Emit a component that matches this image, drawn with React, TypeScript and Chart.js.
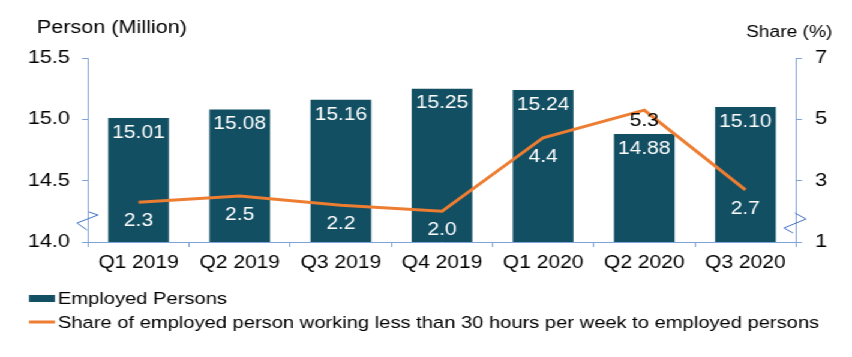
import React, { useEffect, useRef } from 'react';
import { Chart, registerables } from 'chart.js';

Chart.register(...registerables);

// ---- data ----
const categories = ['Q1 2019', 'Q2 2019', 'Q3 2019', 'Q4 2019', 'Q1 2020', 'Q2 2020', 'Q3 2020'];
const employedPersons = [15.01, 15.08, 15.16, 15.25, 15.24, 14.88, 15.1];
const shareUnder30h = [2.3, 2.5, 2.2, 2.0, 4.4, 5.3, 2.7];
const leftRange = [14.0, 15.5];
const leftStep = 0.5;
const rightRange = [1, 7];
const rightStep = 2;
const leftAxisTitle = 'Person (Million)';
const rightAxisTitle = 'Share (%)';
const barLabel = 'Employed Persons';
const lineLabel = 'Share of employed person working less than 30 hours per week to employed persons';

// ---- styling ----
const STRETCH = 1.2; // the reference is horizontally stretched
const W = 852 / STRETCH;
const H = 357;
const FAMILY = '"Liberation Sans", Arial, Helvetica, sans-serif';
const BAR_COLOR = '#124F63';
const LINE_COLOR = '#ED7D31';
const AXIS_COLOR = '#7FA3D8';
const BREAK_COLOR = '#4472C4';

const PLOT_LEFT = 88 / STRETCH;
const PLOT_RIGHT = 796 / STRETCH;
const PLOT_TOP = 58;
const PLOT_BOTTOM = 242;
const PAD_LEFT = 17;

const decorPlugin = {
  id: 'decor',
  afterDatasetsDraw(chart: any) {
    const ctx = chart.ctx;
    const barMeta = chart.getDatasetMeta(0);
    const lineMeta = chart.getDatasetMeta(1);
    ctx.save();
    ctx.textAlign = 'center';
    ctx.textBaseline = 'middle';
    ctx.font = `17.5px ${FAMILY}`;
    barMeta.data.forEach((el: any, i: number) => {
      ctx.fillStyle = '#ffffff';
      ctx.fillText(employedPersons[i].toFixed(2), el.x, el.y + 15);
    });
    lineMeta.data.forEach((el: any, i: number) => {
      const barTop = barMeta.data[i].y;
      const above = el.y < barTop;
      ctx.fillStyle = above ? '#000000' : '#ffffff';
      ctx.fillText(shareUnder30h[i].toFixed(1), el.x, el.y + (above ? 11 : 19));
    });
    ctx.restore();
  },
  afterDraw(chart: any) {
    const ctx = chart.ctx;
    const area = chart.chartArea;
    ctx.save();
    // axis titles
    ctx.fillStyle = '#000000';
    ctx.textBaseline = 'alphabetic';
    ctx.textAlign = 'left';
    ctx.font = `18px ${FAMILY}`;
    ctx.fillText(leftAxisTitle, 37 / STRETCH, 33);
    ctx.font = `16px ${FAMILY}`;
    ctx.fillText(rightAxisTitle, 746 / STRETCH, 37);

    // axis break marks
    ctx.strokeStyle = BREAK_COLOR;
    ctx.lineWidth = 1;
    const b = area.bottom;
    const lx = area.left;
    ctx.beginPath();
    ctx.moveTo(lx + 1 / STRETCH, b - 30);
    ctx.lineTo(lx + 10 / STRETCH, b - 27);
    ctx.lineTo(lx - 11 / STRETCH, b - 19);
    ctx.lineTo(lx - 1 / STRETCH, b - 12);
    ctx.stroke();
    const rx = area.right;
    ctx.beginPath();
    ctx.moveTo(rx - 1 / STRETCH, b - 29);
    ctx.lineTo(rx + 10 / STRETCH, b - 23);
    ctx.lineTo(rx - 12 / STRETCH, b - 14);
    ctx.lineTo(rx - 3 / STRETCH, b - 9);
    ctx.stroke();

    // legend
    const bx = 29 / STRETCH;
    const bw = 26 / STRETCH;
    const tx = 58 / STRETCH;
    ctx.fillStyle = BAR_COLOR;
    ctx.fillRect(bx, 295, bw, 7);
    ctx.strokeStyle = LINE_COLOR;
    ctx.lineWidth = 3;
    ctx.beginPath();
    ctx.moveTo(bx, 322);
    ctx.lineTo(bx + bw, 322);
    ctx.stroke();
    ctx.fillStyle = '#000000';
    ctx.font = `16.8px ${FAMILY}`;
    ctx.textBaseline = 'middle';
    ctx.fillText(barLabel, tx, 299);
    ctx.fillText(lineLabel, tx, 323);
    ctx.restore();
  },
};

export default function App() {
  const canvasRef = useRef<HTMLCanvasElement | null>(null);

  useEffect(() => {
    if (!canvasRef.current) return;
    Chart.defaults.font.family = FAMILY;
    const chart = new Chart(canvasRef.current, {
      type: 'bar',
      data: {
        labels: categories,
        datasets: [
          {
            type: 'bar',
            label: barLabel,
            data: employedPersons,
            backgroundColor: BAR_COLOR,
            borderWidth: 0,
            barPercentage: 0.6,
            categoryPercentage: 1,
            yAxisID: 'y',
            order: 2,
          },
          {
            type: 'line',
            label: lineLabel,
            data: shareUnder30h,
            borderColor: LINE_COLOR,
            backgroundColor: LINE_COLOR,
            borderWidth: 3,
            pointRadius: 0,
            tension: 0,
            fill: false,
            yAxisID: 'y1',
            order: 1,
          } as any,
        ],
      },
      options: {
        animation: false,
        responsive: true,
        maintainAspectRatio: false,
        layout: { padding: { left: PAD_LEFT, top: PLOT_TOP, right: 0, bottom: 0 } },
        plugins: {
          legend: { display: false },
          tooltip: { enabled: false },
        },
        scales: {
          x: {
            grid: {
              offset: true,
              drawOnChartArea: false,
              drawTicks: true,
              tickLength: 5,
              color: AXIS_COLOR,
            },
            border: { color: AXIS_COLOR, width: 1 },
            ticks: {
              font: { size: 17.5, family: FAMILY },
              color: '#000000',
              padding: 6,
              maxRotation: 0,
              autoSkip: false,
            },
            afterFit: (s: any) => {
              s.height = H - PLOT_BOTTOM;
              s.paddingLeft = 0;
              s.paddingRight = 0;
            },
          },
          y: {
            position: 'left',
            min: leftRange[0],
            max: leftRange[1],
            grid: { drawOnChartArea: false, tickLength: 5, color: AXIS_COLOR },
            border: { color: AXIS_COLOR, width: 1 },
            ticks: {
              stepSize: leftStep,
              font: { size: 18, family: FAMILY },
              color: '#000000',
              padding: 10,
              callback: (v: any) => Number(v).toFixed(1),
            },
            afterFit: (s: any) => {
              s.width = PLOT_LEFT - PAD_LEFT;
              s.paddingTop = 0;
              s.paddingBottom = 0;
            },
          },
          y1: {
            position: 'right',
            min: rightRange[0],
            max: rightRange[1],
            grid: { drawOnChartArea: false, tickLength: 5, color: AXIS_COLOR },
            border: { color: AXIS_COLOR, width: 1 },
            ticks: {
              stepSize: rightStep,
              font: { size: 18, family: FAMILY },
              color: '#000000',
              padding: 11,
              callback: (v: any) => String(v),
            },
            afterFit: (s: any) => {
              s.width = W - PLOT_RIGHT;
              s.paddingTop = 0;
              s.paddingBottom = 0;
            },
          },
        },
      } as any,
      plugins: [decorPlugin],
    });
    return () => chart.destroy();
  }, []);

  return (
    <div
      style={{
        position: 'fixed',
        left: 0,
        top: 0,
        width: W,
        height: H,
        transform: `scaleX(${STRETCH})`,
        transformOrigin: '0 0',
        background: '#ffffff',
      }}
    >
      <canvas ref={canvasRef} />
    </div>
  );
}
